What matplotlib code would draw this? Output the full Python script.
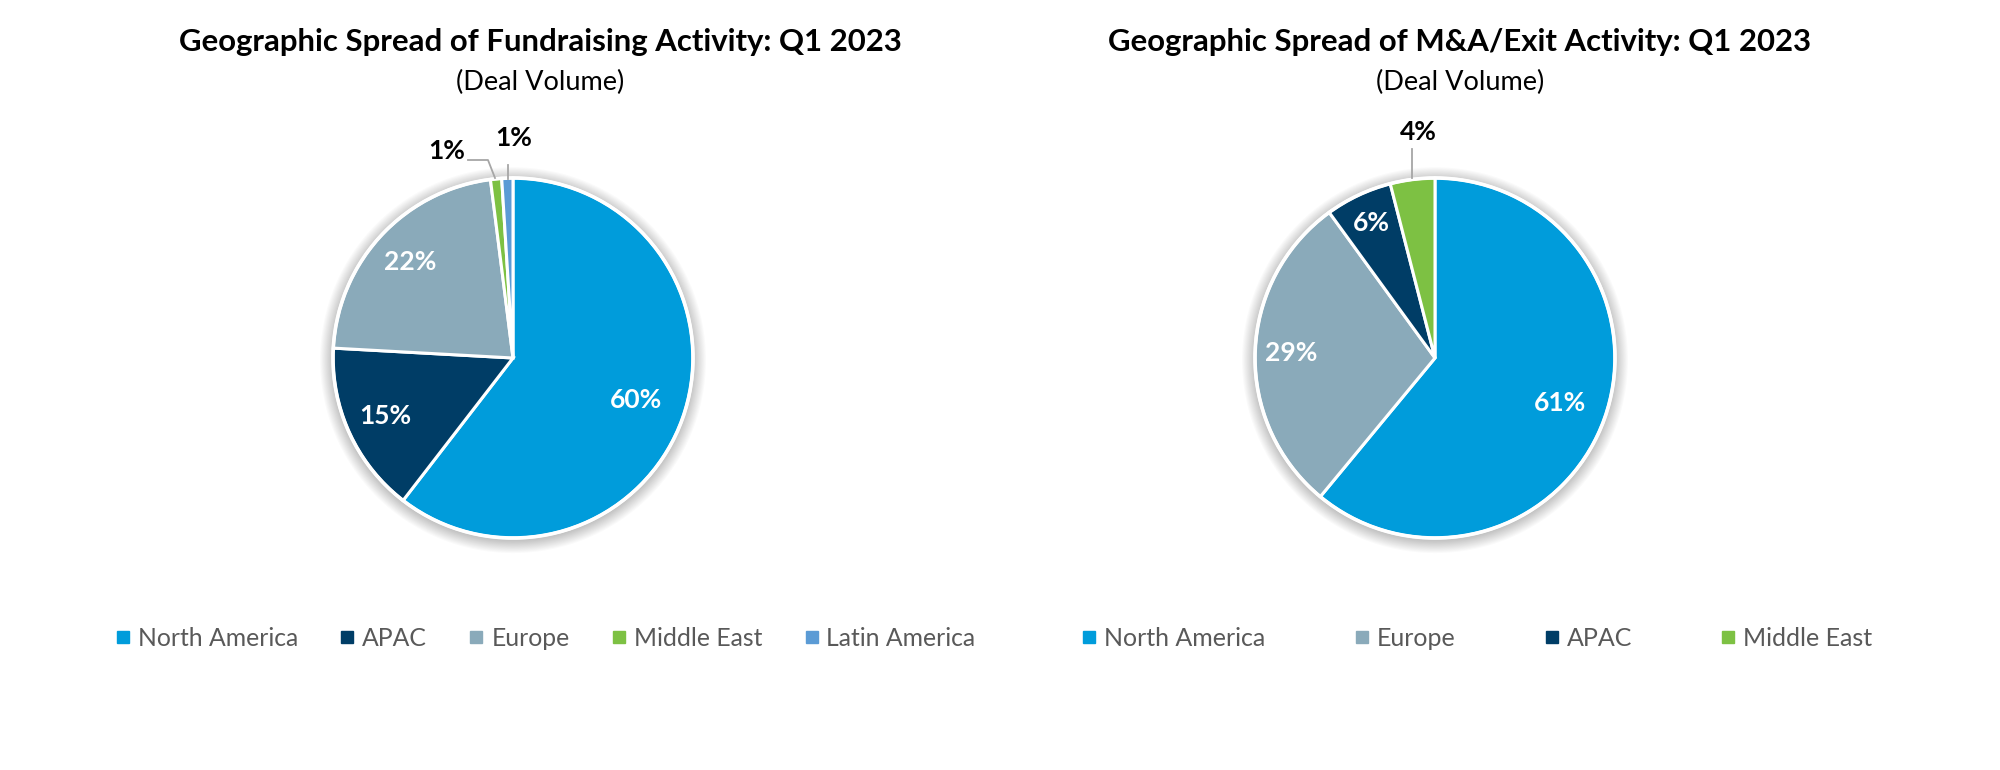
import matplotlib
matplotlib.use("Agg")
import matplotlib.pyplot as plt
from matplotlib.patches import Circle
from matplotlib.lines import Line2D
import numpy as np

plt.rcParams['font.family'] = ['Lato', 'DejaVu Sans']

# ---- data ----
fund_labels = ["North America", "APAC", "Europe", "Middle East", "Latin America"]
fund_values = [60.4, 15.4, 22.1, 1.0, 1.0]
fund_text = ["60%", "15%", "22%", "1%", "1%"]

exit_labels = ["North America", "Europe", "APAC", "Middle East"]
exit_values = [61, 29, 6, 4]
exit_text = ["61%", "29%", "6%", "4%"]

titles = ["Geographic Spread of Fundraising Activity: Q1 2023",
          "Geographic Spread of M&A/Exit Activity: Q1 2023"]
subtitle = "(Deal Volume)"

colors = {"North America": "#009CDB", "APAC": "#003D66", "Europe": "#8AAABA",
          "Middle East": "#7DC143", "Latin America": "#5B9BD5"}

W, H = 2000, 770
fig = plt.figure(figsize=(W / 100, H / 100), dpi=100)
R = 180.0  # pie radius in px
HALF = 260


def make_ax(cx, cy):
    ax = fig.add_axes([(cx - HALF) / W, 1 - (cy + HALF) / H, 2 * HALF / W, 2 * HALF / H])
    return ax


def fix_limits(ax):
    ax.set_xlim(-HALF / R, HALF / R)
    ax.set_ylim(-HALF / R, HALF / R)
    ax.set_aspect('equal')
    ax.axis('off')


def shadow(ax):
    for i in range(12):
        r = 1.0 + 0.006 * (i + 1)
        ax.add_patch(Circle((0, -0.012), r, color='#000000', alpha=0.02, lw=0, zorder=0))


def draw_pie(ax, values, labels, texts, inside_n, pctdist):
    shadow(ax)
    wedges, _ = ax.pie(values, colors=[colors[l] for l in labels], startangle=90,
                       counterclock=False, radius=1.0,
                       wedgeprops=dict(edgecolor='white', linewidth=2.2))
    for w in wedges:
        w.set_zorder(2)
    ax.add_patch(Circle((0, 0), 1.0, fill=False, ec='white', lw=2.6, zorder=3))
    for i in range(inside_n):
        w = wedges[i]
        ang = np.deg2rad((w.theta1 + w.theta2) / 2)
        d = pctdist[i]
        ax.text(d * np.cos(ang), d * np.sin(ang), texts[i], color='white',
                fontsize=19, fontweight='bold', ha='center', va='center', zorder=5)
    fix_limits(ax)
    return wedges


# ---- left pie ----
axL = make_ax(513, 358)
wL = draw_pie(axL, fund_values, fund_labels, fund_text, 3, [0.72, 0.78, 0.78])
# Middle East leader
axL.plot([-0.10, -0.139, -0.25], [1.0, 1.1, 1.1], color='#A6A6A6', lw=1.3, zorder=4)
axL.text(-0.37, 1.15, fund_text[3], fontsize=19, fontweight='bold', ha='center', va='center')
# Latin America leader
axL.plot([-0.028, -0.028], [0.995, 1.07], color='#A6A6A6', lw=1.3, zorder=4)
axL.text(0.006, 1.22, fund_text[4], fontsize=19, fontweight='bold', ha='center', va='center')

# ---- right pie ----
axR = make_ax(1435, 358)
wR = draw_pie(axR, exit_values, exit_labels, exit_text, 3, [0.74, 0.8, 0.83])
axR.plot([-0.128, -0.128], [1.0, 1.16], color='#A6A6A6', lw=1.3, zorder=4)
axR.text(-0.094, 1.255, exit_text[3], fontsize=19, fontweight='bold', ha='center', va='center')

# ---- titles ----
for cx, t in [(540, titles[0]), (1460, titles[1])]:
    fig.text(cx / W, 1 - 42 / H, t, ha='center', va='center', fontsize=22.4, fontweight='bold')
    fig.text(cx / W, 1 - 82 / H, subtitle, ha='center', va='center', fontsize=19.5)


# ---- legends ----
def legend(labels, x0, gap, fs):
    handles = [Line2D([], [], marker='s', ls='none', color=colors[l], markersize=8) for l in labels]
    fig.legend(handles, labels, loc='center left', bbox_to_anchor=(x0 / W, 1 - 638 / H),
               ncol=len(labels), frameon=False, fontsize=fs, labelcolor='#595959',
               handletextpad=0.2, columnspacing=gap, handlelength=0.8, borderaxespad=0)


legend(fund_labels, 103, 1.6, 17.8)
legend(exit_labels, 1069, 3.45, 18.0)

fig.savefig("out.png", dpi=100, facecolor='white')
